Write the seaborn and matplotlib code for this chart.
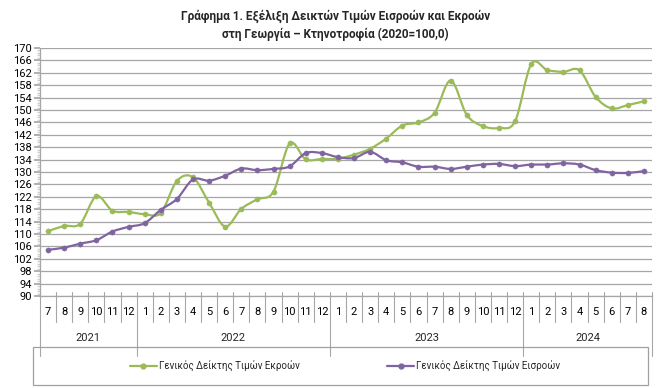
import matplotlib.pyplot as plt
import matplotlib.transforms as mtransforms
import numpy as np
import pandas as pd
import seaborn as sns
from matplotlib.lines import Line2D
from matplotlib.patches import PathPatch, Rectangle
from matplotlib.path import Path

# ---- data ----
months = [7, 8, 9, 10, 11, 12,
          1, 2, 3, 4, 5, 6, 7, 8, 9, 10, 11, 12,
          1, 2, 3, 4, 5, 6, 7, 8, 9, 10, 11, 12,
          1, 2, 3, 4, 5, 6, 7, 8]
years = ["2021", "2022", "2023", "2024"]
year_lengths = [6, 12, 12, 8]

outputs = [110.9, 112.6, 113.3, 122.2, 117.5, 117.1,
           116.4, 116.8, 127.1, 128.3, 120.1, 112.4, 118.1, 121.2, 123.7, 139.2, 134.1, 134.2,
           134.3, 135.6, 137.5, 140.8, 145.0, 146.0, 149.1, 159.5, 148.4, 144.8, 144.2, 146.4,
           164.8, 162.9, 162.3, 162.8, 154.2, 150.5, 151.6, 152.8]
inputs = [104.9, 105.6, 106.9, 108.0, 110.8, 112.3,
          113.5, 117.8, 121.3, 127.6, 127.2, 128.8, 131.1, 130.6, 131.0, 131.8, 136.1, 136.1,
          134.8, 134.5, 136.5, 133.8, 133.1, 131.7, 131.7, 131.0, 131.7, 132.4, 132.6, 131.9,
          132.4, 132.4, 132.8, 132.4, 130.6, 129.8, 129.7, 130.3]

y_ticks = list(range(90, 171, 4))

label_out = "Γενικός Δείκτης Τιμών Εκροών"
label_in = "Γενικός Δείκτης Τιμών Εισροών"
title = "Γράφημα 1. Εξέλιξη Δεικτών Τιμών Εισροών και Εκροών\nστη Γεωργία – Κτηνοτροφία (2020=100,0)"

green = "#9BBB59"
purple = "#8064A2"
grid_col = "#a6a6a6"

df = pd.DataFrame({"idx": range(len(months)), "out": outputs, "inp": inputs})


def smooth_path(x, y):
    """Bezier path in the style of Excel smoothed lines."""
    n = len(x)
    verts = [(x[0], y[0])]
    codes = [Path.MOVETO]
    for i in range(n - 1):
        a = i - 1 if i > 0 else i
        d = i + 2 if i + 2 < n else i + 1
        c1 = (x[i] + (x[i + 1] - x[a]) / 6, y[i] + (y[i + 1] - y[a]) / 6)
        c2 = (x[i + 1] - (x[d] - x[i]) / 6, y[i + 1] - (y[d] - y[i]) / 6)
        verts += [c1, c2, (x[i + 1], y[i + 1])]
        codes += [Path.CURVE4] * 3
    return Path(verts, codes)


sns.set_theme(style="white")
plt.rcParams["font.family"] = ["Roboto", "DejaVu Sans"]

fig = plt.figure(figsize=(6.64, 3.88), dpi=100)
ax = fig.add_axes([40 / 664, 1 - 296 / 388, 612 / 664, 248 / 388])

for col, color in [("out", green), ("inp", purple)]:
    ax.add_patch(PathPatch(smooth_path(list(df["idx"]), list(df[col])),
                           facecolor="none", edgecolor=color, lw=1.6, zorder=3))
    sns.scatterplot(data=df, x="idx", y=col, ax=ax, color=color, edgecolor=color,
                    s=14, zorder=4, legend=False)

ax.set_xlim(-0.5, len(months) - 0.5)
ax.set_ylim(90, 170)
ax.set_yticks(y_ticks)
ax.set_yticks(np.arange(90, 170.01, 0.8), minor=True)
ax.grid(axis="y", which="major", color=grid_col, lw=0.9)
ax.set_axisbelow(True)
ax.tick_params(axis="y", which="major", labelsize=8, length=4, color=grid_col,
               direction="out", left=True, pad=2, labelcolor="#000000")
ax.tick_params(axis="y", which="minor", length=2, color="#d0d0d0", direction="out", left=True)
ax.set_xlabel("")
ax.set_ylabel("")

for side in ["top", "right"]:
    ax.spines[side].set_visible(False)
for side in ["left", "bottom"]:
    ax.spines[side].set_color(grid_col)
    ax.spines[side].set_linewidth(0.9)

# month labels
ax.set_xticks(range(len(months)), labels=[str(m) for m in months])
ax.tick_params(axis="x", length=0, pad=8, labelsize=8, labelcolor="#000000")

# category separators
trans = mtransforms.blended_transform_factory(ax.transData, ax.transAxes)
year_starts = [0]
for n in year_lengths:
    year_starts.append(year_starts[-1] + n)
for i in range(len(months) + 1):
    bottom = -0.242 if i in year_starts else -0.105
    ax.plot([i - 0.5, i - 0.5], [0.015, bottom], transform=trans, color=grid_col,
            lw=0.8, clip_on=False)

for k, yr in enumerate(years):
    centre = (year_starts[k] + year_starts[k + 1] - 1) / 2
    ax.text(centre, -0.17, yr, transform=trans, ha="center", va="center", fontsize=8)

fig.text(0.505, 1 - 25 / 388, title, ha="center", va="center", fontsize=8.5,
         fontweight="bold", linespacing=1.45)

# legend box
fig.patches.append(Rectangle((33 / 664, 1 - 385 / 388), 615 / 664, 38 / 388,
                             transform=fig.transFigure, facecolor="none",
                             edgecolor="#a0a0a0", lw=0.9))
handles = [Line2D([], [], color=green, lw=1.6, marker="o", markersize=3.5),
           Line2D([], [], color=purple, lw=1.6, marker="o", markersize=3.5)]
fig.legend(handles, [label_out, label_in], loc="center", ncol=2,
           bbox_to_anchor=(345 / 664, 1 - 366 / 388), frameon=False, fontsize=7,
           handlelength=2.8, handletextpad=0.2, columnspacing=9)

fig.savefig("out.png", dpi=100)
